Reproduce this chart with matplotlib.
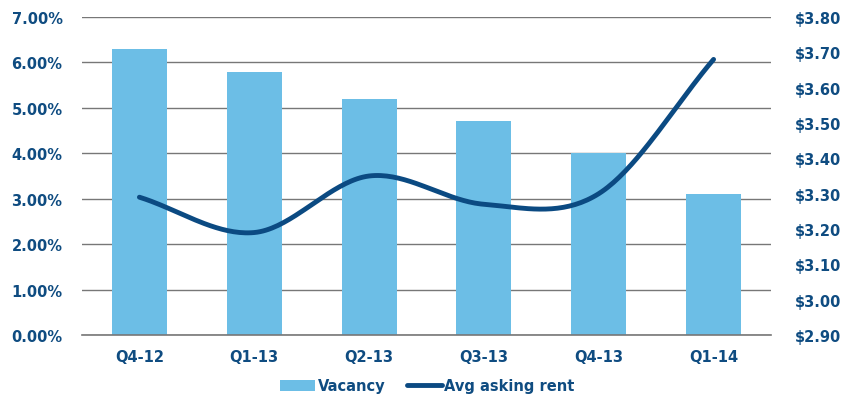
import numpy as np
import matplotlib.pyplot as plt
from matplotlib.ticker import FuncFormatter

# data
quarters = ["Q4-12", "Q1-13", "Q2-13", "Q3-13", "Q4-13", "Q1-14"]
vacancy = [6.3, 5.8, 5.2, 4.7, 4.0, 3.1]
rent = [3.29, 3.19, 3.35, 3.27, 3.30, 3.68]

bar_color = "#6CBEE6"
line_color = "#0B4A82"
text_color = "#0F4C81"

plt.rcParams["font.family"] = ["DejaVu Sans"]
plt.rcParams["font.weight"] = "bold"

fig = plt.figure(figsize=(8.55, 4.02), dpi=100)
ax = fig.add_axes([82 / 855, 1 - 336 / 402, (771 - 82) / 855, (336 - 18) / 402])
ax2 = ax.twinx()

x = np.arange(len(quarters))
ax.bar(x, vacancy, width=0.48, color=bar_color, zorder=2, label="Vacancy")
ax.set_ylim(0, 7)
ax.set_xlim(-0.5, len(quarters) - 0.5)
ax.set_yticks(np.arange(0, 7.01, 1))
ax.yaxis.set_major_formatter(FuncFormatter(lambda v, p: f"{v:.2f}%"))
ax.grid(axis="y", color="#777777", linewidth=1.0, zorder=0)
ax.axhline(0, color="#777777", linewidth=1.2, clip_on=False, zorder=2.5)
ax.set_axisbelow(True)
ax.set_xticks(x)
ax.set_xticklabels(quarters)


# smooth curve (Catmull-Rom, like Excel's smoothed line)
def smooth(xs, ys, n=40):
    px = np.concatenate([[2 * xs[0] - xs[1]], xs, [2 * xs[-1] - xs[-2]]])
    py = np.concatenate([[2 * ys[0] - ys[1]], ys, [2 * ys[-1] - ys[-2]]])
    outx, outy = [], []
    for i in range(1, len(px) - 2):
        t = np.linspace(0, 1, n)
        for p, out in ((px, outx), (py, outy)):
            p0, p1, p2, p3 = p[i - 1], p[i], p[i + 1], p[i + 2]
            out.extend(0.5 * ((2 * p1) + (-p0 + p2) * t
                              + (2 * p0 - 5 * p1 + 4 * p2 - p3) * t ** 2
                              + (-p0 + 3 * p1 - 3 * p2 + p3) * t ** 3))
    return np.array(outx), np.array(outy)


sx, sy = smooth(x.astype(float), np.array(rent, dtype=float))
ax2.plot(sx, sy, color=line_color, linewidth=3.5, solid_capstyle="round",
         label="Avg asking rent", zorder=3)
ax2.set_ylim(2.9, 3.8)
ax2.set_yticks(np.arange(2.9, 3.801, 0.1))
ax2.yaxis.set_major_formatter(FuncFormatter(lambda v, p: f"${v:.2f}"))

for a in (ax, ax2):
    for s in a.spines.values():
        s.set_visible(False)
    a.tick_params(length=0, labelsize=10.5, labelcolor=text_color)
ax.tick_params(axis="y", pad=14)
ax.tick_params(axis="x", pad=10)
ax2.tick_params(axis="y", pad=17)

h1, l1 = ax.get_legend_handles_labels()
h2, l2 = ax2.get_legend_handles_labels()
leg = fig.legend(h1 + h2, l1 + l2, loc="center", bbox_to_anchor=(0.5, 1 - 387 / 402),
                 ncol=2, frameon=False, fontsize=10.5, handlelength=2.4,
                 handletextpad=0.15, columnspacing=1.5)
for t in leg.get_texts():
    t.set_color(text_color)

fig.savefig("out.png", dpi=100)
